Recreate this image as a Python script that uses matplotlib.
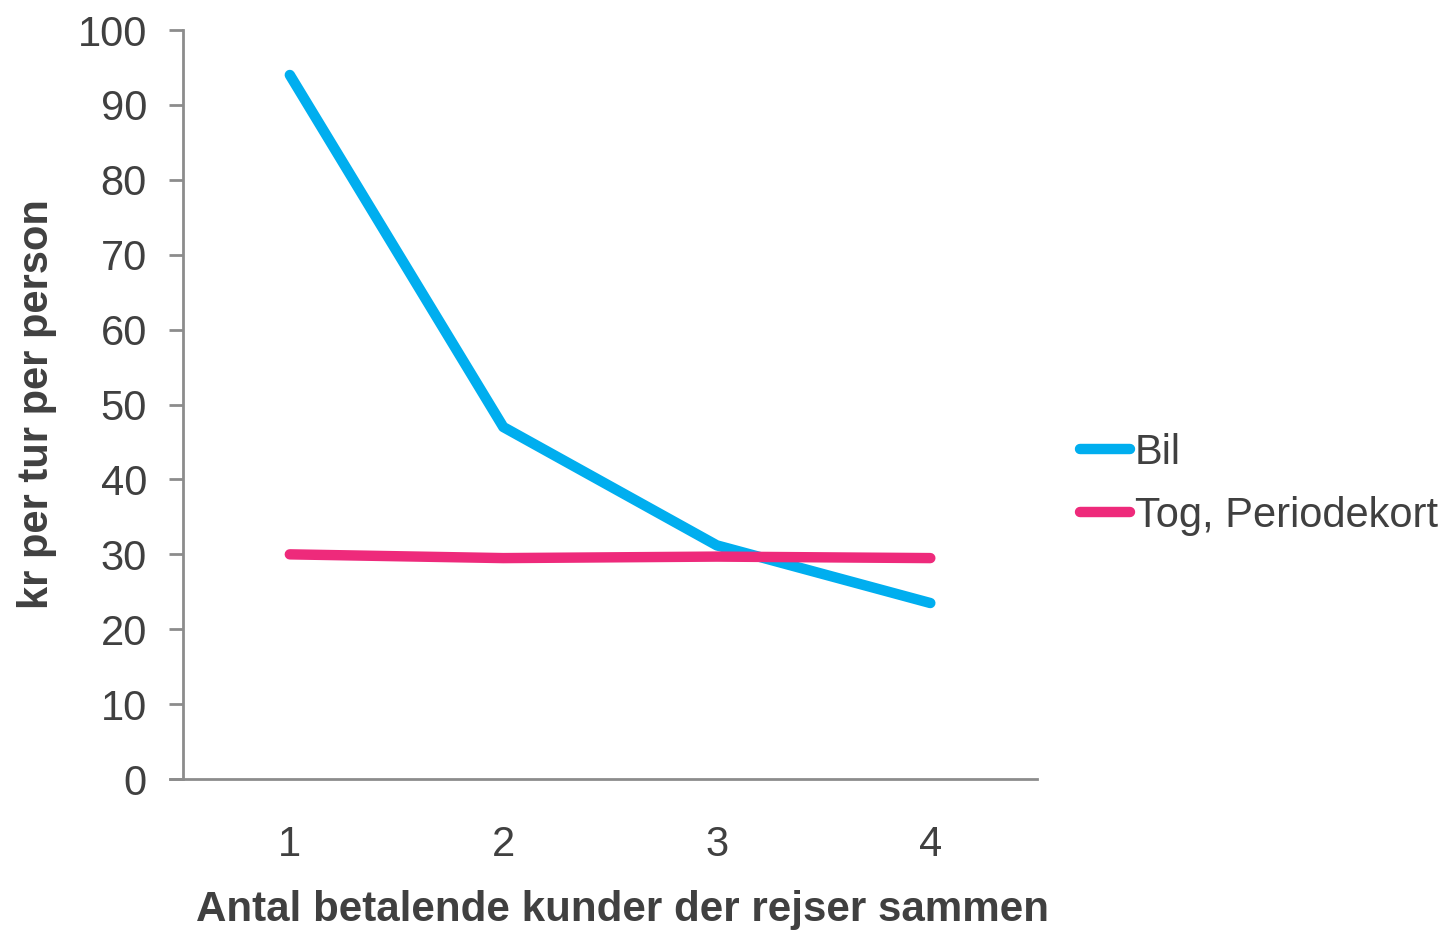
import matplotlib.pyplot as plt

plt.rcParams["font.family"] = ["Liberation Sans", "DejaVu Sans"]

kunder = [1, 2, 3, 4]
bil = [94, 47, 31.2, 23.5]
tog_periodekort = [30, 29.5, 29.7, 29.5]

TEXT = "#404040"
AXIS = "#8c8c8c"

fig = plt.figure(figsize=(14.46, 9.33), dpi=100)
ax = fig.add_axes([0.1266, 0.165, 0.5906, 0.8028])

ax.plot(kunder, bil, color="#00aeef", linewidth=7.5, solid_capstyle="round",
        solid_joinstyle="round", label="Bil")
ax.plot(kunder, tog_periodekort, color="#ee2a7b", linewidth=7.5, solid_capstyle="round",
        label="Tog, Periodekort")

ax.set_xlim(0.5, 4.5)
ax.set_ylim(0, 100)
ax.set_xticks(kunder)
ax.set_yticks(range(0, 101, 10))

for side in ("top", "right"):
    ax.spines[side].set_visible(False)
for side in ("left", "bottom"):
    ax.spines[side].set_color(AXIS)
    ax.spines[side].set_linewidth(2)
ax.spines["bottom"].set_bounds(0.44, 4.5)
ax.tick_params(axis="y", direction="out", length=10, width=2, color=AXIS,
               labelsize=30, labelcolor=TEXT, pad=16)
ax.tick_params(axis="x", length=0, labelsize=30, labelcolor=TEXT, pad=33)

ax.set_xlabel("Antal betalende kunder der rejser sammen", fontsize=30.3,
              fontweight="bold", color=TEXT, va="center")
ax.xaxis.set_label_coords(0.514, -0.175)
ax.set_ylabel("kr per tur per person", fontsize=30, fontweight="bold",
              color=TEXT, va="center")
ax.yaxis.set_label_coords(-0.171, 0.5)

leg = fig.legend(loc="center left", bbox_to_anchor=(0.7357, 0.481), frameon=False,
                 fontsize=30, handlelength=1.2, handletextpad=0.1, labelspacing=0.55,
                 borderaxespad=0)
for txt in leg.get_texts():
    txt.set_color(TEXT)

fig.savefig("out.png", dpi=100)
